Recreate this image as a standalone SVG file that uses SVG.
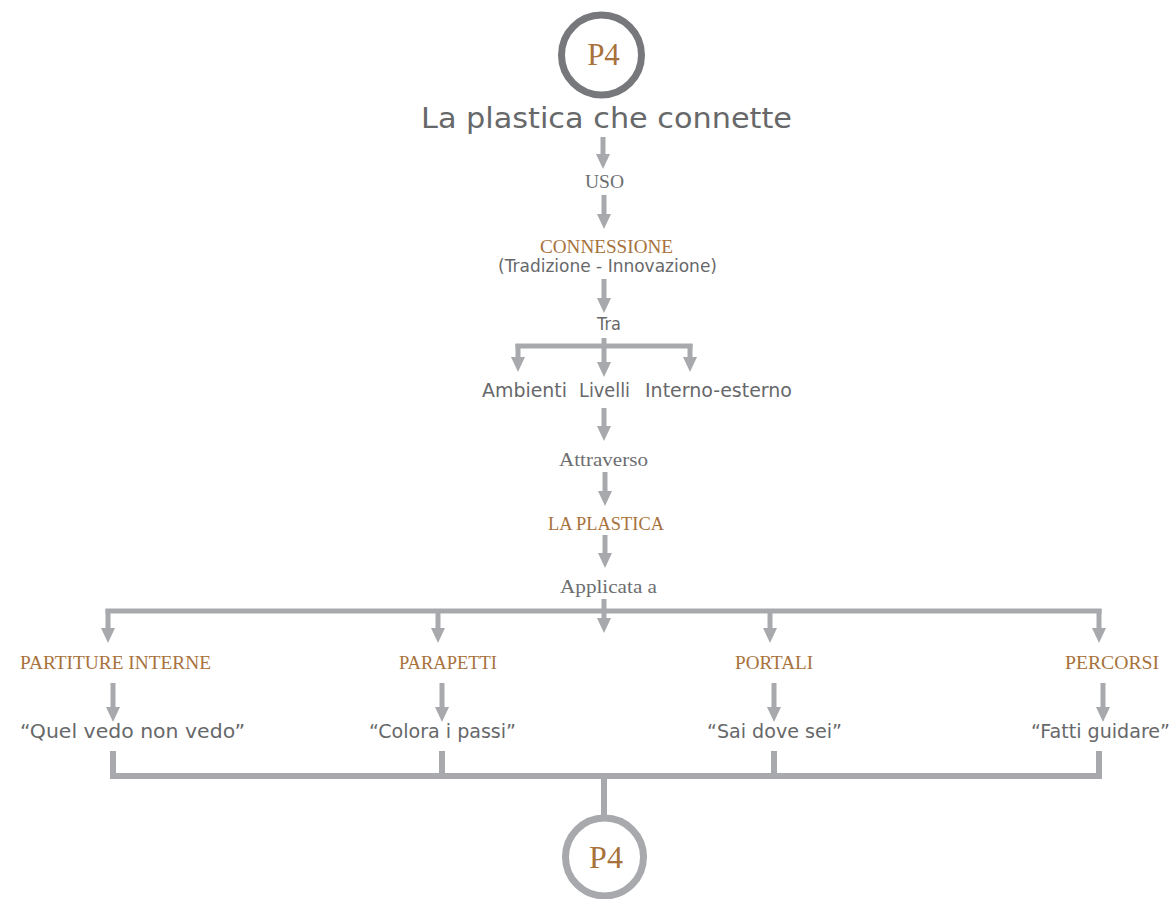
<svg xmlns="http://www.w3.org/2000/svg" width="1175" height="899" viewBox="0 0 1175 899">
<style>
.bg{fill:#ffffff}
.c{stroke:#a7a9ac;stroke-width:5;fill:none}
.cb{stroke:#a7a9ac;stroke-width:6;fill:none}
.ar{stroke:#a7a9ac;stroke-width:5;fill:none;marker-end:url(#ah)}
.br{font-family:"Liberation Serif","Times New Roman",serif;fill:#a8723c}
.sg{font-family:"Liberation Serif","Times New Roman",serif;fill:#6d6e71}
.ss{font-family:"DejaVu Sans","Liberation Sans",sans-serif;fill:#67686a}
.mid{text-anchor:middle}
</style>
<defs>
<marker id="ah" markerUnits="userSpaceOnUse" viewBox="0 0 15 14" markerWidth="15" markerHeight="14" refX="1" refY="7" orient="auto">
<path d="M0,0 L15,7 L0,14 z" fill="#a7a9ac"/>
</marker>
</defs>
<rect class="bg" x="0" y="0" width="1175" height="899"/>
<g id="connectors">
<line class="ar" x1="603" y1="137" x2="603" y2="155"/>
<line class="ar" x1="604" y1="195" x2="604" y2="215"/>
<line class="ar" x1="604" y1="279" x2="604" y2="299"/>
<line class="c" x1="515.5" y1="346" x2="692.5" y2="346"/>
<line class="ar" x1="518" y1="344" x2="518" y2="358"/>
<line class="ar" x1="604" y1="338" x2="604" y2="363"/>
<line class="ar" x1="690" y1="344" x2="690" y2="358"/>
<line class="ar" x1="604" y1="408" x2="604" y2="427"/>
<line class="ar" x1="605" y1="472" x2="605" y2="492"/>
<line class="ar" x1="605" y1="535" x2="605" y2="554"/>
<line class="c" x1="105.5" y1="611" x2="1101.5" y2="611"/>
<line class="ar" x1="604" y1="599" x2="604" y2="619"/>
<line class="ar" x1="108" y1="609" x2="108" y2="629"/>
<line class="ar" x1="438" y1="609" x2="438" y2="629"/>
<line class="ar" x1="770" y1="609" x2="770" y2="629"/>
<line class="ar" x1="1099" y1="609" x2="1099" y2="629"/>
<line class="ar" x1="113" y1="683" x2="113" y2="708"/>
<line class="ar" x1="442" y1="683" x2="442" y2="708"/>
<line class="ar" x1="774" y1="683" x2="774" y2="708"/>
<line class="ar" x1="1103" y1="683" x2="1103" y2="708"/>
<path class="cb" d="M113,751 V776 M442,751 V776 M774,751 V776 M1099,751 V776"/>
<line class="cb" x1="110" y1="776" x2="1102" y2="776"/>
<line class="cb" x1="604" y1="776" x2="604" y2="817"/>
</g>
<g id="node-p4-top">
<circle cx="601.5" cy="55" r="40" fill="none" stroke="#77787b" stroke-width="7"/>
<text class="br mid" x="603.5" y="65" font-size="31">P4</text>
</g>
<g id="node-title">
<text class="ss mid" x="606.5" y="128" font-size="29" textLength="371" lengthAdjust="spacingAndGlyphs">La plastica che connette</text>
</g>
<g id="node-uso">
<text class="sg mid" x="604.5" y="188" font-size="18" textLength="39" lengthAdjust="spacingAndGlyphs">USO</text>
</g>
<g id="node-connessione">
<text class="br mid" x="606.5" y="253" font-size="19" textLength="133" lengthAdjust="spacingAndGlyphs">CONNESSIONE</text>
<text class="ss mid" x="607.5" y="272" font-size="17" textLength="219" lengthAdjust="spacingAndGlyphs">(Tradizione - Innovazione)</text>
</g>
<g id="node-tra">
<text class="ss mid" x="609" y="330" font-size="17" textLength="24" lengthAdjust="spacingAndGlyphs">Tra</text>
</g>
<g id="node-ambiti">
<text class="ss" y="397" font-size="20"><tspan x="482" textLength="85" lengthAdjust="spacingAndGlyphs">Ambienti</tspan><tspan x="579" textLength="51" lengthAdjust="spacingAndGlyphs">Livelli</tspan><tspan x="645" textLength="147" lengthAdjust="spacingAndGlyphs">Interno-esterno</tspan></text>
</g>
<g id="node-attraverso">
<text class="sg mid" x="603.5" y="466" font-size="19" textLength="89" lengthAdjust="spacingAndGlyphs">Attraverso</text>
</g>
<g id="node-la-plastica">
<text class="br mid" x="606" y="530" font-size="18" textLength="116" lengthAdjust="spacingAndGlyphs">LA PLASTICA</text>
</g>
<g id="node-applicata">
<text class="sg mid" x="608.5" y="593" font-size="19" textLength="97" lengthAdjust="spacingAndGlyphs">Applicata a</text>
</g>
<g id="node-partiture">
<text class="br mid" x="115.5" y="669" font-size="18" textLength="191" lengthAdjust="spacingAndGlyphs">PARTITURE INTERNE</text>
<text class="ss mid" x="132.5" y="738" font-size="20" textLength="225" lengthAdjust="spacingAndGlyphs">“Quel vedo non vedo”</text>
</g>
<g id="node-parapetti">
<text class="br mid" x="448" y="669" font-size="18" textLength="98" lengthAdjust="spacingAndGlyphs">PARAPETTI</text>
<text class="ss mid" x="442.5" y="738" font-size="20" textLength="147" lengthAdjust="spacingAndGlyphs">“Colora i passi”</text>
</g>
<g id="node-portali">
<text class="br mid" x="774" y="669" font-size="18" textLength="78" lengthAdjust="spacingAndGlyphs">PORTALI</text>
<text class="ss mid" x="774.5" y="738" font-size="20" textLength="135" lengthAdjust="spacingAndGlyphs">“Sai dove sei”</text>
</g>
<g id="node-percorsi">
<text class="br mid" x="1112" y="669" font-size="18" textLength="94" lengthAdjust="spacingAndGlyphs">PERCORSI</text>
<text class="ss mid" x="1100.5" y="738" font-size="20" textLength="139" lengthAdjust="spacingAndGlyphs">“Fatti guidare”</text>
</g>
<g id="node-p4-bottom">
<circle cx="604.5" cy="857" r="39" fill="none" stroke="#a7a9ac" stroke-width="7"/>
<text class="br mid" x="606" y="868" font-size="32">P4</text>
</g>
</svg>
